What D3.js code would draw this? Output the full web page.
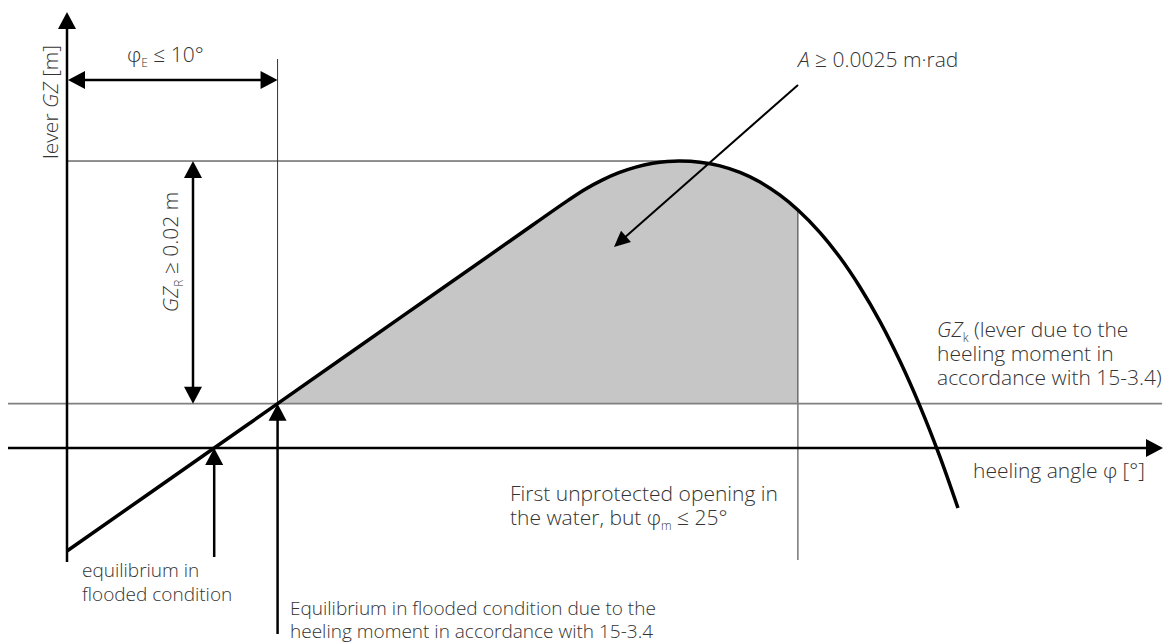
<!DOCTYPE html>
<html>
<head>
<meta charset="utf-8">
<script src="https://cdn.jsdelivr.net/npm/d3@7"></script>
<style>
  body { margin: 0; background: #fff; }
  text { font-family: "Open Sans", sans-serif; font-weight: 300; font-size: 21px; fill: #333; }
  text.small { font-size: 19px; }
</style>
</head>
<body>
<div id="chart"></div>
<script>
// righting lever curve (schematic), heeling angle in degrees, GZ in metres
var phi = [0, 6.99, 10, 16, 21, 23.81, 24.61, 25.41, 26.21, 27.01, 27.81, 28.51, 29.11,
           30.06, 31.01, 31.96, 32.91, 33.86, 34.71, 35.76, 36.71, 37.66, 38.61, 39.56, 40.51, 41.46, 42.31];
var gz  = [-0.00848, 0, 0.00365, 0.01094, 0.017, 0.02041, 0.02131, 0.02206, 0.02267, 0.02313, 0.02344, 0.02359, 0.02363,
           0.02353, 0.02323, 0.02269, 0.0219, 0.02082, 0.0196, 0.01774, 0.01568, 0.01324, 0.01041, 0.00714, 0.00343, -0.00075, -0.00494];

// key angles and levers
var phiEq = 6.99;    // equilibrium in flooded condition
var phiE = 10;       // equilibrium due to heeling moment
var phiM = 34.71;    // first unprotected opening
var phiPeak = 29.11;
var gzK = 0.00365;   // heeling lever
var gzMax = 0.02363; // max lever
var gzAtM = 0.0196;

var svgWidth = 1170;
var svgHeight = 644;

var svg = d3.select("#chart")
  .append("svg")
  .attr("width", svgWidth)
  .attr("height", svgHeight);

var xScale = d3.scaleLinear().domain([0, 52]).range([67, 1162]);
var yScale = d3.scaleLinear().domain([0, 0.0359]).range([448, 12]);

var curveData = phi.map(function(p, i) { return { phi: p, gz: gz[i] }; });
var curve = d3.curveCatmullRom.alpha(0.5);

// arrow head: tip at (x, y), pointing in direction ang (radians)
function head(x, y, ang, len, wid) {
  len = len || 17; wid = wid || 18;
  var bx = x - len * Math.cos(ang), by = y - len * Math.sin(ang);
  var nx = -Math.sin(ang) * wid / 2, ny = Math.cos(ang) * wid / 2;
  svg.append("path")
    .attr("d", "M" + x + "," + y + "L" + (bx + nx) + "," + (by + ny) + "L" + (bx - nx) + "," + (by - ny) + "Z")
    .attr("fill", "#000");
}

function line(x1, y1, x2, y2, w, col) {
  svg.append("line")
    .attr("x1", x1).attr("y1", y1).attr("x2", x2).attr("y2", y2)
    .attr("stroke", col || "#000")
    .attr("stroke-width", w);
}

var x0 = xScale(0), y0 = yScale(0);

// shaded area between GZk and the curve, clipped to phiE..phiM
svg.append("clipPath").attr("id", "clipA")
  .append("rect")
  .attr("x", xScale(phiE)).attr("y", 0)
  .attr("width", xScale(phiM) - xScale(phiE))
  .attr("height", yScale(gzK));

svg.append("path")
  .datum(curveData)
  .attr("fill", "#c6c6c6")
  .attr("clip-path", "url(#clipA)")
  .attr("d", d3.area()
    .x(function(d) { return xScale(d.phi); })
    .y0(yScale(gzK))
    .y1(function(d) { return yScale(d.gz); })
    .curve(curve));

// thin guide lines
line(x0, yScale(gzMax), xScale(phiPeak), yScale(gzMax), 1, "#222");
line(xScale(phiE), 59, xScale(phiE), yScale(gzK), 1, "#333");
line(xScale(phiM), yScale(gzAtM), xScale(phiM), 560, 1, "#333");
line(8, yScale(gzK), 1162, yScale(gzK), 1.6, "#808080");

// axes
line(x0, 562, x0, 26, 2.5);
head(x0, 12, -Math.PI / 2);
line(8, y0, 1148, y0, 2.5);
head(1163, y0, 0);

// curve
svg.append("path")
  .datum(curveData)
  .attr("fill", "none")
  .attr("stroke", "#000")
  .attr("stroke-width", 3.5)
  .attr("stroke-linejoin", "round")
  .attr("d", d3.line()
    .x(function(d) { return xScale(d.phi); })
    .y(function(d) { return yScale(d.gz); })
    .curve(curve));

// phi_E arrow
line(x0 + 10, 80, xScale(phiE) - 10, 80, 2.5);
head(x0 + 1, 80, Math.PI);
head(xScale(phiE), 80, 0);

// GZ_R arrow
var gx = 193;
line(gx, yScale(gzMax) + 10, gx, yScale(gzK) - 10, 2.5);
head(gx, yScale(gzMax), -Math.PI / 2);
head(gx, yScale(gzK), Math.PI / 2);

// equilibrium arrows from below
line(xScale(phiEq), 557, xScale(phiEq), y0 + 12, 2.5);
head(xScale(phiEq), y0, -Math.PI / 2);
line(xScale(phiE), 634, xScale(phiE), yScale(gzK) + 12, 2.5);
head(xScale(phiE), yScale(gzK), -Math.PI / 2);

// A arrow
var ax1 = 798, ay1 = 85, ax2 = 614, ay2 = 247;
var aang = Math.atan2(ay2 - ay1, ax2 - ax1);
line(ax1, ay1, ax2 - 12 * Math.cos(aang), ay2 - 12 * Math.sin(aang), 2);
head(ax2, ay2, aang, 16, 15);

// labels
function label(x, y, parts, opts) {
  opts = opts || {};
  var t = svg.append("text")
    .attr("text-anchor", opts.anchor || "start");
  if (opts.cls) t.attr("class", opts.cls);
  if (opts.rot) t.attr("transform", "translate(" + x + "," + y + ") rotate(" + opts.rot + ")");
  else t.attr("x", x).attr("y", y);
  parts.forEach(function(p) {
    var s = t.append("tspan").text(p.t);
    if (p.i) s.attr("font-style", "italic");
    if (p.sub) s.attr("font-size", 12).attr("dy", 5);
    if (p.up) s.attr("dy", -5);
  });
}

label(58, 102, [{ t: "lever " }, { t: "GZ", i: 1 }, { t: " [m]" }], { anchor: "middle", rot: -90 });
label(127, 62, [{ t: "φ" }, { t: "E", sub: 1 }, { t: " ≤ 10°", up: 1 }]);
label(178, 252, [{ t: "GZ", i: 1 }, { t: "R", sub: 1 }, { t: " ≥ 0.02 m", up: 1 }], { anchor: "middle", rot: -90 });
label(798, 67, [{ t: "A", i: 1 }, { t: " ≥ 0.0025 m·rad" }]);
label(937, 337, [{ t: "GZ", i: 1 }, { t: "k", sub: 1 }, { t: " (lever due to the", up: 1 }]);
label(937, 361, [{ t: "heeling moment in" }]);
label(937, 385, [{ t: "accordance with 15-3.4)" }]);
label(973, 478, [{ t: "heeling angle φ [°]" }]);
label(510, 501, [{ t: "First unprotected opening in" }]);
label(510, 525, [{ t: "the water, but φ" }, { t: "m", sub: 1 }, { t: " ≤ 25°", up: 1 }]);
label(82, 577, [{ t: "equilibrium in" }], { cls: "small" });
label(82, 601, [{ t: "flooded condition" }], { cls: "small" });
label(290, 615, [{ t: "Equilibrium in flooded condition due to the" }], { cls: "small" });
label(290, 638, [{ t: "heeling moment in accordance with 15-3.4" }], { cls: "small" });
</script>
</body>
</html>
